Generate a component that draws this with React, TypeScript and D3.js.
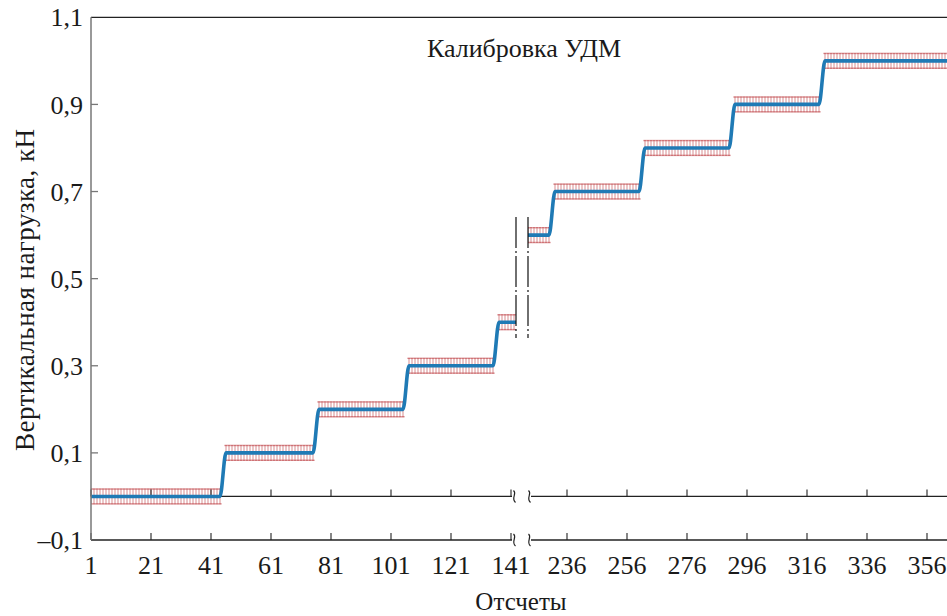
import React, { useEffect, useRef } from "react";
import * as d3 from "d3";

// step levels of the calibration (kN) and the sample range each one holds
const levels = [0, 0.1, 0.2, 0.3, 0.4, 0.6, 0.7, 0.8, 0.9, 1.0];
const levelStart = [1, 46, 77, 107, 137, 223, 232, 262, 292, 322];
const levelEnd = [44, 75, 105, 135, 143, 230, 260, 290, 320, 364];
const errHalf = 0.017;

const yTicks = [-0.1, 0.1, 0.3, 0.5, 0.7, 0.9, 1.1];
const xTicks1 = [1, 21, 41, 61, 81, 101, 121, 141];
const xTicks2 = [236, 256, 276, 296, 316, 336, 356];
const breakSample = 180; // samples below go to the left part, above to the right

const fmt = (v: number) => (v < 0 ? "\u2013" : "") + Math.abs(v).toFixed(1).replace(".", ",");

export default function App() {
  const svgRef = useRef<SVGSVGElement>(null);

  useEffect(() => {
    const width = 947;
    const height = 616;
    const svg = d3.select(svgRef.current);
    svg.selectAll("*").remove();

    const font = '"Liberation Serif", "Times New Roman", "DejaVu Serif", serif';
    const left = 91;
    const cut1 = 516;
    const cut2 = 528;

    const y = d3.scaleLinear().domain([-0.1, 1.1]).range([540, 17.3]);
    const x1 = d3.scaleLinear().domain([1, 141]).range([91, 511]);
    const x2 = d3.scaleLinear().domain([236, 356]).range([567, 927]);
    const xs = (s: number) => (s < breakSample ? x1(s) : x2(s));

    const defs = svg.append("defs");
    defs.append("clipPath").attr("id", "c1")
      .append("rect").attr("x", left).attr("y", 0).attr("width", cut1 - left).attr("height", height);
    defs.append("clipPath").attr("id", "c2")
      .append("rect").attr("x", cut2).attr("y", 0).attr("width", width - cut2).attr("height", height);

    // points of the two parts of the curve
    const pts1: [number, number][] = [];
    const pts2: [number, number][] = [];
    levels.forEach((lv, i) => {
      const target = levelStart[i] < breakSample ? pts1 : pts2;
      target.push([levelStart[i], lv]);
      target.push([levelEnd[i], lv]);
    });

    // error bars, one per sample on every level
    const bars: { s: number; v: number }[] = [];
    levels.forEach((lv, i) => {
      for (let s = levelStart[i]; s <= levelEnd[i]; s++) bars.push({ s, v: lv });
    });

    const errColor = "#cf7376";
    [["c1", bars.filter(d => d.s < breakSample)], ["c2", bars.filter(d => d.s >= breakSample)]].forEach(([id, data]: any) => {
      const g = svg.append("g").attr("clip-path", `url(#${id})`);
      const eb = g.selectAll("g.eb").data(data).enter().append("g");
      eb.append("line")
        .attr("x1", (d: any) => xs(d.s)).attr("x2", (d: any) => xs(d.s))
        .attr("y1", (d: any) => y(d.v - errHalf)).attr("y2", (d: any) => y(d.v + errHalf))
        .attr("stroke", errColor).attr("stroke-width", 1).attr("opacity", 0.8);
      [-errHalf, errHalf].forEach(o => {
        eb.append("line")
          .attr("x1", (d: any) => xs(d.s) - 1.5).attr("x2", (d: any) => xs(d.s) + 1.5)
          .attr("y1", (d: any) => y(d.v + o)).attr("y2", (d: any) => y(d.v + o))
          .attr("stroke", errColor).attr("stroke-width", 1.4);
      });
    });

    // zero line and bottom axis, broken at the gap
    const axisLine = (yy: number) => {
      svg.append("line").attr("x1", left).attr("x2", 512).attr("y1", yy).attr("y2", yy)
        .attr("stroke", "#222").attr("stroke-width", 1.3);
      svg.append("line").attr("x1", 531).attr("x2", width).attr("y1", yy).attr("y2", yy)
        .attr("stroke", "#222").attr("stroke-width", 1.3);
      [514.5, 529.5].forEach(cx => {
        svg.append("path")
          .attr("d", `M${cx - 1},${yy - 6} C${cx + 3},${yy - 3} ${cx - 4},${yy + 2} ${cx + 1},${yy + 6}`)
          .attr("fill", "none").attr("stroke", "#222").attr("stroke-width", 1.2);
      });
      xTicks1.concat(xTicks2).forEach(t => {
        const xx = t < breakSample ? x1(t) : x2(t);
        svg.append("line").attr("x1", xx).attr("x2", xx).attr("y1", yy).attr("y2", yy - 7)
          .attr("stroke", "#222").attr("stroke-width", 1.1);
      });
    };
    axisLine(y(0));
    axisLine(y(-0.1));

    // the curve
    const line = d3.line<[number, number]>().x(d => xs(d[0])).y(d => y(d[1])).curve(d3.curveMonotoneX);
    svg.append("path").datum(pts1).attr("d", line).attr("clip-path", "url(#c1)")
      .attr("fill", "none").attr("stroke", "#1f7ab5").attr("stroke-width", 3.6);
    svg.append("path").datum(pts2).attr("d", line).attr("clip-path", "url(#c2)")
      .attr("fill", "none").attr("stroke", "#1f7ab5").attr("stroke-width", 3.6);

    // top border and left axis
    svg.append("line").attr("x1", left).attr("x2", width).attr("y1", y(1.1)).attr("y2", y(1.1))
      .attr("stroke", "#222").attr("stroke-width", 1.3);
    svg.append("line").attr("x1", left).attr("x2", left).attr("y1", y(1.1)).attr("y2", y(-0.1))
      .attr("stroke", "#777").attr("stroke-width", 1.5);

    const txt = (sel: any, size: number) =>
      sel.style("font-family", font).style("font-size", `${size}px`).attr("fill", "#1a1a1a");

    yTicks.forEach(t => {
      if (t > -0.1 && t < 1.1) {
        svg.append("line").attr("x1", left).attr("x2", left + 7).attr("y1", y(t)).attr("y2", y(t))
          .attr("stroke", "#777").attr("stroke-width", 1.3);
      }
      txt(svg.append("text").attr("x", 83).attr("y", y(t)).attr("dy", "0.35em")
        .attr("text-anchor", "end"), 26).text(fmt(t));
    });

    // x tick labels
    xTicks1.forEach(t => {
      txt(svg.append("text").attr("x", x1(t)).attr("y", 574).attr("text-anchor", "middle"), 26).text(t);
    });
    xTicks2.forEach(t => {
      txt(svg.append("text").attr("x", x2(t)).attr("y", 574).attr("text-anchor", "middle"), 26).text(t);
    });

    // break marks: two dash-dot verticals
    [cut1, cut2].forEach(xx => {
      svg.append("line").attr("x1", xx).attr("x2", xx).attr("y1", 217).attr("y2", 338)
        .attr("stroke", "#111").attr("stroke-width", 1.2).attr("stroke-dasharray", "31 3 2 3");
    });

    // titles
    txt(svg.append("text").attr("x", 524).attr("y", 57).attr("text-anchor", "middle"), 26)
      .text("Калибровка УДМ");
    txt(svg.append("text").attr("transform", `translate(34,290) rotate(-90)`).attr("text-anchor", "middle"), 27)
      .attr("textLength", 322).attr("lengthAdjust", "spacing")
      .text("Вертикальная нагрузка, кН");
    txt(svg.append("text").attr("x", 521).attr("y", 610).attr("text-anchor", "middle"), 25)
      .text("Отсчеты");
  }, []);

  return (
    <svg ref={svgRef} width={947} height={616}
      style={{ position: "absolute", left: 0, top: 0, background: "#fff", display: "block" }} />
  );
}
